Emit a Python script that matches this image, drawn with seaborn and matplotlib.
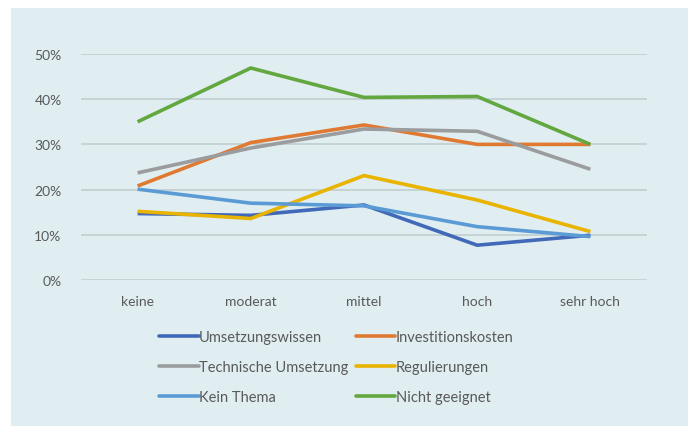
import matplotlib
matplotlib.use("Agg")
import matplotlib.pyplot as plt
import seaborn as sns
import pandas as pd
from matplotlib.patches import Rectangle
from matplotlib.ticker import PercentFormatter

# Daten
levels = ["keine", "moderat", "mittel", "hoch", "sehr hoch"]
umsetzungswissen = [0.147, 0.143, 0.166, 0.077, 0.099]
investitionskosten = [0.208, 0.304, 0.343, 0.300, 0.300]
technische_umsetzung = [0.237, 0.292, 0.334, 0.329, 0.245]
regulierungen = [0.152, 0.136, 0.231, 0.177, 0.107]
kein_thema = [0.201, 0.170, 0.164, 0.118, 0.096]
nicht_geeignet = [0.350, 0.469, 0.404, 0.406, 0.300]

series_names = ["Umsetzungswissen", "Investitionskosten", "Technische Umsetzung",
                "Regulierungen", "Kein Thema", "Nicht geeignet"]
series_values = [umsetzungswissen, investitionskosten, technische_umsetzung,
                 regulierungen, kein_thema, nicht_geeignet]
colors = ["#4169B8", "#E07A32", "#9A9C9E", "#E9B400", "#5B9BD5", "#62A73F"]

rows = []
for name, vals in zip(series_names, series_values):
  for lvl, v in zip(levels, vals):
    rows.append({"Stufe": lvl, "Anteil": v, "Grund": name})
df = pd.DataFrame(rows)

sns.set_theme(style="white")
plt.rcParams['font.family'] = ['Lato', 'DejaVu Sans']

fig = plt.figure(figsize=(6.88, 4.27), dpi=100)
fig.patch.set_facecolor("white")
bg = "#E0EEF1"
# Hintergrundfläche des Diagramms (hinter den Achsen)
fig.patches.append(Rectangle((11 / 688, 0), 677 / 688, 1 - 9 / 427,
                             transform=fig.transFigure, facecolor=bg,
                             edgecolor="none", zorder=-5))

ax = fig.add_axes([81 / 688, 1 - 281 / 427, 566 / 688, 226 / 427])
ax.set_facecolor("none")

sns.lineplot(data=df, x="Stufe", y="Anteil", hue="Grund", hue_order=series_names,
             palette=colors, linewidth=2.6, sort=False, ax=ax, legend=False)
for line in ax.lines:
  line.set_solid_capstyle("butt")
  line.set_solid_joinstyle("miter")
  line.set_clip_on(False)

ax.set_xlim(-0.5, len(levels) - 0.5)
ax.set_ylim(0, 0.5)
ax.set_yticks([0, 0.1, 0.2, 0.3, 0.4, 0.5])
ax.yaxis.set_major_formatter(PercentFormatter(1.0, decimals=0))
ax.grid(axis="y", color="#BFCBCD", linewidth=1.1)
ax.set_axisbelow(True)
for s in ax.spines.values():
  s.set_visible(False)
ax.set_xlabel("")
ax.set_ylabel("")
ax.tick_params(axis="both", length=0, labelsize=10, colors="#595959")
ax.tick_params(axis="y", pad=14)
ax.tick_params(axis="x", pad=11)

# Legende zeilenweise anordnen (2 Spalten)
order = [0, 2, 4, 1, 3, 5]
handles = [plt.Line2D([], [], color=colors[i], linewidth=2.6) for i in order]
labels = [series_names[i] for i in order]
fig.legend(handles, labels, ncol=2, loc="upper left",
           bbox_to_anchor=(146 / 688, 1 - 318 / 427), frameon=False,
           fontsize=10.5, labelcolor="#595959", handlelength=2.7,
           handletextpad=0.05, columnspacing=0.5, labelspacing=1.1)

fig.savefig("out.png", dpi=100, facecolor="white")
